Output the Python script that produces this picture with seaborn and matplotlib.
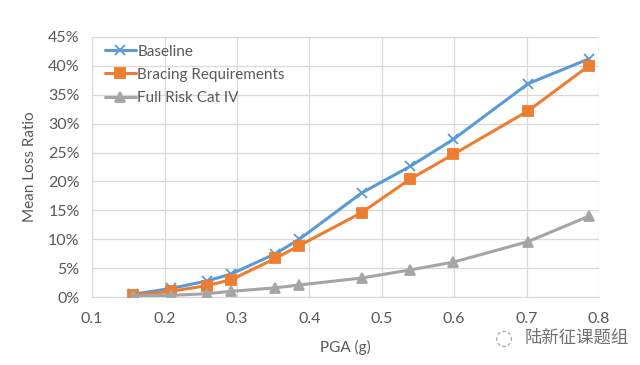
import matplotlib
matplotlib.use("Agg")
import matplotlib.pyplot as plt
import seaborn as sns
import pandas as pd
from matplotlib.ticker import PercentFormatter, MultipleLocator

pga = [0.157, 0.209, 0.259, 0.292, 0.353, 0.386, 0.472, 0.539, 0.599, 0.702, 0.786]
baseline = [0.5, 1.5, 2.8, 4.0, 7.5, 10.0, 18.0, 22.6, 27.3, 36.9, 41.2]
bracing = [0.3, 1.0, 2.0, 3.0, 6.7, 8.9, 14.6, 20.4, 24.7, 32.2, 40.0]
full_risk = [0.2, 0.3, 0.6, 1.0, 1.6, 2.1, 3.3, 4.7, 6.05, 9.6, 14.0]
series_names = ["Baseline", "Bracing Requirements", "Full Risk Cat IV"]
x_ticks = [0.1, 0.2, 0.3, 0.4, 0.5, 0.6, 0.7, 0.8]

sns.set_style("white")
plt.rcParams["font.family"] = ["Lato", "DejaVu Sans"]
text_color = "#595959"

fig = plt.figure(figsize=(6.4, 3.65), dpi=100)
ax = fig.add_axes([0.144, 0.186, 0.792, 0.713])

colors = ["#5B9BD5", "#ED7D31", "#A5A5A5"]
markers = ["x", "s", "^"]
for name, vals, c, m in zip(series_names, [baseline, bracing, full_risk], colors, markers):
    d = pd.DataFrame({"PGA": pga, "Loss": vals})
    sns.lineplot(data=d, x="PGA", y="Loss", color=c, marker=m, linewidth=2.2,
                 markersize=7, markeredgewidth=1.3, markeredgecolor=c,
                 markerfacecolor=c, label=name, ax=ax, zorder=3)

ax.set_xlim(0.1, 0.8)
ax.set_ylim(0, 45)
ax.yaxis.set_major_locator(MultipleLocator(5))
ax.yaxis.set_major_formatter(PercentFormatter(decimals=0))
ax.set_xticks(x_ticks)
ax.set_xticklabels([f"{t:.1f}" for t in x_ticks])
ax.grid(True, color="#D9D9D9", linewidth=0.9)
ax.set_axisbelow(True)
for side in ["top", "right", "left"]:
    ax.spines[side].set_visible(False)
ax.spines["bottom"].set_color("#D9D9D9")
ax.tick_params(axis="y", length=0, labelsize=11.5, colors=text_color, pad=9)
ax.tick_params(axis="x", length=0, labelsize=11.5, colors=text_color, pad=11)

ax.set_xlabel("PGA (g)", fontsize=11, color=text_color, labelpad=10)
ax.set_ylabel("Mean Loss Ratio", fontsize=11, color=text_color, labelpad=8)

leg = ax.legend(loc="upper left", bbox_to_anchor=(0.0, 1.02), frameon=False,
                fontsize=11, handlelength=2.0, handletextpad=0.1,
                labelspacing=0.6, borderaxespad=0.45)
for t in leg.get_texts():
    t.set_color(text_color)

fig.text(0.82, 0.075, "陆新征课题组", fontsize=12.5, color="#707070",
         family=["Noto Sans CJK SC", "DejaVu Sans"], ha="left", va="center")
fig.text(0.788, 0.075, "◌", fontsize=15, color="#A0A0A0",
         family=["DejaVu Sans"], ha="center", va="center")

fig.savefig("out.png", dpi=100, facecolor="white")
